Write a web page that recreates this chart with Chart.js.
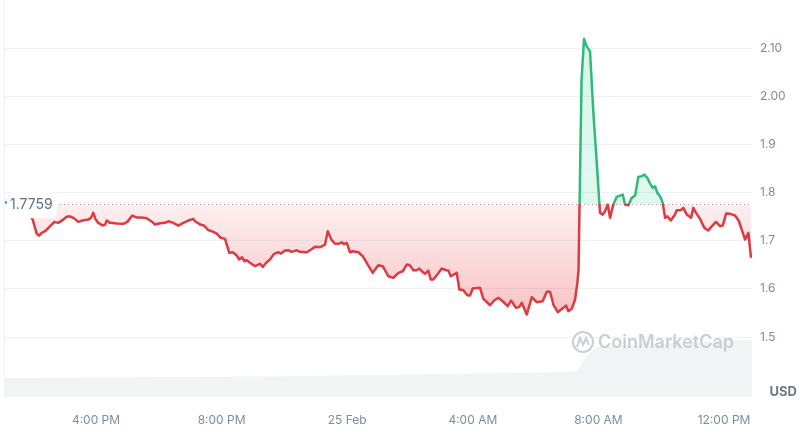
<!DOCTYPE html>
<html>
<head>
<meta charset="utf-8">
<script src="https://cdn.jsdelivr.net/npm/chart.js@4.4.1/dist/chart.umd.min.js"></script>
<style>
  html, body { margin: 0; padding: 0; background: #fff; }
  #wrap { width: 800px; height: 433px; position: relative; }
</style>
</head>
<body>
<div id="wrap"><canvas id="priceChart"></canvas></div>
<script>
// opening price (24h ago) used as the reference line
const baseline = 1.7759;

// hours after 12:00 PM, 24 Feb
const times = [
    1.102, 1.700, 1.984, 2.111, 2.185, 2.271, 2.376, 2.535, 2.672, 2.799,
    2.959, 3.067, 3.172, 3.277, 3.436, 3.596, 3.755, 3.841, 3.914, 3.990,
    4.073, 4.213, 4.287, 4.341, 4.446, 4.659, 4.869, 4.997, 5.156, 5.296,
    5.455, 5.615, 5.806, 5.879, 6.038, 6.197, 6.303, 6.462, 6.621, 6.780,
    6.939, 7.099, 7.153, 7.312, 7.439, 7.576, 7.736, 7.844, 7.971, 8.108,
    8.245, 8.354, 8.481, 8.564, 8.650, 8.723, 8.799, 8.904, 9.064, 9.223,
    9.309, 9.436, 9.541, 9.669, 9.806, 9.892, 10.019, 10.124, 10.232, 10.392,
    10.497, 10.710, 10.847, 10.975, 11.134, 11.293, 11.379, 11.506, 11.611, 11.717,
    11.825, 11.898, 11.984, 12.089, 12.175, 12.354, 12.494, 12.621, 12.812, 12.990,
    13.140, 13.309, 13.468, 13.627, 13.768, 13.895, 14.000, 14.105, 14.213, 14.296,
    14.373, 14.478, 14.583, 14.659, 14.742, 14.869, 15.010, 15.146, 15.220, 15.296,
    15.487, 15.570, 15.697, 15.825, 15.911, 15.997, 16.229, 16.334, 16.548, 16.685,
    16.812, 16.952, 17.111, 17.217, 17.376, 17.481, 17.558, 17.717, 17.876, 18.035,
    18.226, 18.354, 18.459, 18.564, 18.704, 18.882, 18.968, 19.041, 19.150, 19.255,
    19.328, 19.366, 19.462, 19.541, 19.627, 19.732, 19.838, 19.946, 20.029, 20.051,
    20.137, 20.210, 20.296, 20.369, 20.475, 20.583, 20.688, 20.774, 20.847, 20.952,
    21.060, 21.166, 21.271, 21.379, 21.462, 21.557, 21.643, 21.729, 21.803, 21.876,
    21.962, 22.048, 22.121, 22.194, 22.303, 22.439, 22.494, 22.621, 22.704, 22.812,
    22.949, 23.022, 23.108, 23.236, 23.373, 23.500, 23.608, 23.745, 23.873, 23.959,
    24.064, 24.191, 24.350, 24.459, 24.564, 24.669, 24.774, 24.860
];

const prices = [
    1.7803, 1.7690, 1.7439, 1.7149, 1.7107, 1.7163, 1.7197, 1.7300, 1.7392, 1.7371,
    1.7439, 1.7496, 1.7508, 1.7475, 1.7392, 1.7425, 1.7439, 1.7475, 1.7579, 1.7439,
    1.7371, 1.7315, 1.7329, 1.7419, 1.7371, 1.7356, 1.7350, 1.7392, 1.7523, 1.7481,
    1.7481, 1.7466, 1.7383, 1.7336, 1.7363, 1.7371, 1.7404, 1.7371, 1.7315, 1.7371,
    1.7419, 1.7454, 1.7404, 1.7336, 1.7315, 1.7222, 1.7184, 1.7149, 1.7060, 1.7039,
    1.6748, 1.6761, 1.6692, 1.6609, 1.6657, 1.6574, 1.6595, 1.6541, 1.6470, 1.6520,
    1.6458, 1.6553, 1.6609, 1.6727, 1.6761, 1.6734, 1.6796, 1.6802, 1.6769, 1.6802,
    1.6769, 1.6761, 1.6817, 1.6873, 1.6864, 1.6920, 1.7197, 1.7010, 1.6941, 1.6935,
    1.6968, 1.6927, 1.6956, 1.6761, 1.6781, 1.6761, 1.6678, 1.6541, 1.6333, 1.6491,
    1.6464, 1.6262, 1.6229, 1.6333, 1.6366, 1.6505, 1.6485, 1.6387, 1.6387, 1.6422,
    1.6366, 1.6312, 1.6381, 1.6194, 1.6194, 1.6298, 1.6422, 1.6387, 1.6381, 1.6262,
    1.6333, 1.5986, 1.5972, 1.5868, 1.5862, 1.6007, 1.6022, 1.5793, 1.5660, 1.5764,
    1.5814, 1.5743, 1.5640, 1.5758, 1.5606, 1.5627, 1.5710, 1.5467, 1.5826, 1.5723,
    1.5743, 1.5939, 1.5939, 1.5675, 1.5515, 1.5606, 1.5654, 1.5536, 1.5586, 1.5779,
    1.6125, 1.6401, 2.0346, 2.1191, 2.1037, 2.0933, 1.9661, 1.8617, 1.7786, 1.7579,
    1.7543, 1.7612, 1.7751, 1.7475, 1.7751, 1.7911, 1.7938, 1.7958, 1.7751, 1.7736,
    1.7890, 1.7938, 1.8326, 1.8338, 1.8374, 1.8305, 1.8187, 1.8098, 1.8131, 1.7994,
    1.7923, 1.7786, 1.7475, 1.7508, 1.7419, 1.7543, 1.7633, 1.7633, 1.7682, 1.7543,
    1.7475, 1.7682, 1.7579, 1.7454, 1.7267, 1.7211, 1.7300, 1.7392, 1.7300, 1.7315,
    1.7564, 1.7558, 1.7523, 1.7425, 1.7232, 1.7024, 1.7163, 1.6644
];

// traded volume (millions), drawn as the faint band at the bottom
const volTimes = [1.07, 5.72, 10.50, 15.27, 18.78, 19.30, 19.55, 19.95, 21.64, 23.24, 24.89];
const volValues = [4.8, 5.0, 5.3, 5.8, 6.3, 6.6, 9.5, 12.6, 13.3, 13.9, 14.4];

const xTickValues = [4, 8, 12, 16, 20, 24];
const xTickLabels = ['4:00 PM', '8:00 PM', '25 Feb', '4:00 AM', '8:00 AM', '12:00 PM'];
const yTickValues = [1.5, 1.6, 1.7, 1.8, 1.9, 2.0, 2.1];
const yTickLabels = ['1.5', '1.6', '1.7', '1.8', '1.9', '2.00', '2.10'];

const green = '#2fba7a';
const red = '#dd3a41';
const tickColor = '#808a9d';

function lineStroke(context) {
    const chart = context.chart;
    const area = chart.chartArea;
    if (!area) return red;
    const yb = chart.scales.y.getPixelForValue(baseline);
    const s = Math.min(Math.max((yb - area.top) / (area.bottom - area.top), 0), 1);
    const g = chart.ctx.createLinearGradient(0, area.top, 0, area.bottom);
    g.addColorStop(0, green);
    g.addColorStop(s, green);
    g.addColorStop(s, red);
    g.addColorStop(1, red);
    return g;
}

function areaFill(context) {
    const chart = context.chart;
    const area = chart.chartArea;
    if (!area) return 'rgba(234,57,67,0.1)';
    const y = chart.scales.y;
    const yTop = y.getPixelForValue(Math.max(...prices));
    const yBot = y.getPixelForValue(Math.min(...prices));
    const yb = y.getPixelForValue(baseline);
    const s = (yb - yTop) / (yBot - yTop);
    const g = chart.ctx.createLinearGradient(0, yTop, 0, yBot);
    g.addColorStop(0, 'rgba(22,199,132,0.16)');
    g.addColorStop(s, 'rgba(22,199,132,0.13)');
    g.addColorStop(s, 'rgba(234,57,67,0.08)');
    g.addColorStop(1, 'rgba(234,57,67,0.30)');
    return g;
}

const decorations = {
    id: 'decorations',
    beforeDatasetsDraw(chart) {
        const c = chart.ctx;
        const area = chart.chartArea;
        const yb = chart.scales.y.getPixelForValue(baseline);
        c.save();
        c.strokeStyle = 'rgba(150,130,135,0.75)';
        c.lineWidth = 1;
        c.setLineDash([1, 3]);
        c.beginPath();
        c.moveTo(area.left + 52, Math.round(yb) + 0.5);
        c.lineTo(area.right, Math.round(yb) + 0.5);
        c.stroke();
        c.restore();
    },
    afterDatasetsDraw(chart) {
        const c = chart.ctx;
        const area = chart.chartArea;
        const yb = chart.scales.y.getPixelForValue(baseline);
        c.save();
        // baseline label
        c.fillStyle = '#ffffff';
        c.beginPath();
        c.roundRect(area.left + 3, yb - 12, 50, 26, 6);
        c.fill();
        c.fillStyle = '#616e85';
        c.font = '14px Inter';
        c.textBaseline = 'middle';
        c.textAlign = 'left';
        c.fillText(baseline.toFixed(4), area.left + 6, yb + 1);

        // watermark
        const wx = area.right - 169;
        const wy = area.bottom - 55;
        c.strokeStyle = 'rgba(196,200,207,0.9)';
        c.lineWidth = 2;
        c.beginPath();
        c.arc(wx, wy, 10, 0, Math.PI * 2);
        c.stroke();
        c.beginPath();
        c.moveTo(wx - 6, wy + 5);
        c.lineTo(wx - 3, wy - 4);
        c.lineTo(wx, wy + 3);
        c.lineTo(wx + 3, wy - 4);
        c.lineTo(wx + 6, wy + 3);
        c.stroke();
        c.fillStyle = 'rgba(196,200,207,0.9)';
        c.font = '600 18px Inter';
        c.textAlign = 'left';
        c.fillText('CoinMarketCap', wx + 15, wy + 1);
        c.restore();
    },
    afterDraw(chart) {
        const c = chart.ctx;
        c.save();
        c.fillStyle = '#6f7685';
        c.font = 'bold 13px Inter';
        c.textAlign = 'right';
        c.textBaseline = 'middle';
        c.fillText('USD', 797, 392);
        c.restore();
    }
};

new Chart(document.getElementById('priceChart'), {
    type: 'line',
    data: {
        datasets: [{
            label: 'Price',
            data: times.map((t, i) => ({ x: t, y: prices[i] })),
            yAxisID: 'y',
            borderColor: lineStroke,
            backgroundColor: areaFill,
            borderWidth: 2.5,
            borderJoinStyle: 'round',
            pointRadius: 0,
            tension: 0,
            fill: { value: baseline }
        }, {
            label: 'Volume',
            data: volTimes.map((t, i) => ({ x: t, y: volValues[i] })),
            yAxisID: 'yv',
            borderWidth: 0,
            borderColor: 'rgba(0,0,0,0)',
            backgroundColor: '#f2f3f5',
            pointRadius: 0,
            tension: 0.2,
            fill: 'origin'
        }]
    },
    options: {
        responsive: true,
        maintainAspectRatio: false,
        animation: false,
        layout: { padding: 0 },
        plugins: {
            legend: { display: false },
            tooltip: { enabled: false }
        },
        scales: {
            x: {
                type: 'linear',
                min: 1.07,
                max: 24.89,
                grid: { display: false },
                border: { display: false },
                afterBuildTicks: scale => {
                    scale.ticks = xTickValues.map(v => ({ value: v }));
                },
                afterFit: scale => {
                    scale.height = 36;
                    scale.paddingLeft = 0;
                    scale.paddingRight = 0;
                },
                ticks: {
                    padding: 8,
                    maxRotation: 0,
                    autoSkip: false,
                    color: tickColor,
                    font: { family: 'Inter', size: 12 },
                    callback: v => xTickLabels[xTickValues.indexOf(v)]
                }
            },
            y: {
                position: 'right',
                min: 1.3754,
                max: 2.2,
                grid: { color: '#eef0f3', drawTicks: false },
                border: { display: false },
                afterBuildTicks: scale => {
                    scale.ticks = yTickValues.map(v => ({ value: v }));
                },
                afterFit: scale => {
                    scale.width = 48;
                    scale.paddingTop = 0;
                    scale.paddingBottom = 0;
                },
                ticks: {
                    padding: 8,
                    color: tickColor,
                    font: { family: 'Inter', size: 12 },
                    callback: v => yTickLabels[yTickValues.findIndex(t => Math.abs(t - v) < 1e-6)]
                }
            },
            yv: {
                position: 'left',
                min: 0,
                max: 100,
                grid: { display: false },
                border: { display: true, color: '#eef0f3' },
                ticks: { display: false },
                afterFit: scale => {
                    scale.width = 4;
                    scale.paddingTop = 0;
                    scale.paddingBottom = 0;
                }
            }
        }
    },
    plugins: [decorations]
});
</script>
</body>
</html>
